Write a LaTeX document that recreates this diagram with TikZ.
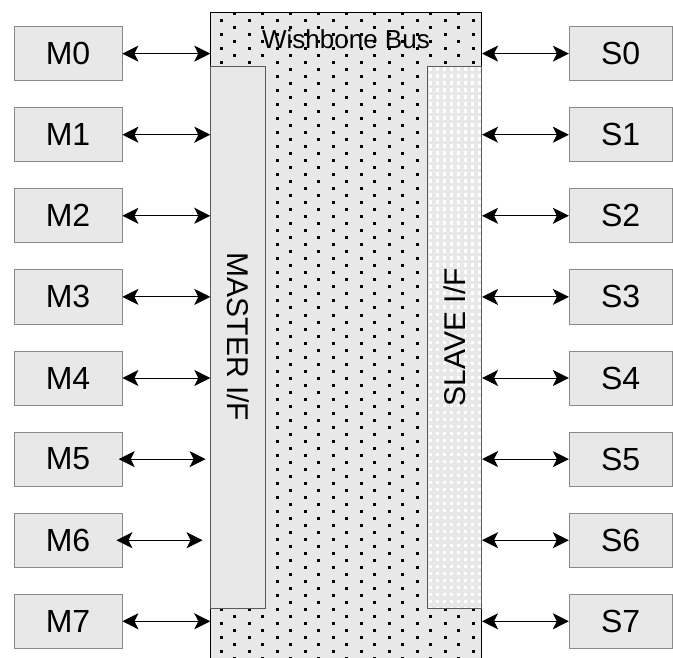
\documentclass[tikz,border=0pt]{standalone}
\usepackage{fontspec}
\setmainfont{Liberation Sans}
\usetikzlibrary{arrows.meta}
\definecolor{PanelGray}{HTML}{E8E8E8}
\definecolor{EdgeGray}{HTML}{8A8A8A}
\tikzset{unit/.style={draw=EdgeGray,fill=PanelGray,line width=0.8pt,minimum width=108pt,minimum height=54pt,inner sep=0pt,font=\fontsize{32}{38}\selectfont},
  iface/.style={draw=black!65,fill=PanelGray,line width=0.8pt,minimum width=54.3pt,minimum height=542.3pt,inner sep=0pt,font=\fontsize{30}{36}\selectfont},
  link/.style={{Stealth[length=16pt,width=16pt,inset=4pt]}-{Stealth[length=16pt,width=16pt,inset=4pt]},line width=1pt},
  busdot/.style={fill=black}}
\begin{document}
\begin{tikzpicture}[x=1pt,y=-1pt]
\useasboundingbox (0,0) rectangle (673,658);
% bus body with dot raster
\fill[PanelGray] (210.7,12.3) rectangle (481.7,658);
\begin{scope}
\clip (210.7,12.3) rectangle (481.7,658);
\foreach \r in {0,...,46}{
  \foreach \c in {0,...,8} \fill[busdot] (233.2+28*\c,12.5+14*\r) rectangle ++(3,3);
  \foreach \c in {0,...,9} \fill[busdot] (219.8+28*\c,19.5+14*\r) rectangle ++(3,3);
}
\end{scope}
\draw[line width=1pt] (210.7,658) -- (210.7,12.3) -- (481.7,12.3) -- (481.7,658);
\node[font=\fontsize{26}{30}\selectfont] (buslabel) at (346,39) {Wishbone Bus};
% interfaces
\node[iface] (master) at (237.85,337.15) {\rotatebox{-90}{MASTER I/F}};
\node[iface,path picture={
  \foreach \r in {0,...,77}\foreach \c in {0,...,7}
    \fill[white] ([xshift={(1.5+7*\c)*1pt},yshift={-(1.5+7*\r)*1pt}]path picture bounding box.north west) rectangle ++(3.5,3.5);
  }] (slave) at (454.5,337.15) {\rotatebox{90}{SLAVE I/F}};
% masters and slaves
\foreach \i in {0,...,7}{
  \node[unit] (m\i) at (68,53.6+81.1*\i) {M\i};
  \node[unit,minimum width=102.7pt] (s\i) at (620.6,53.6+81.1*\i) {S\i};
}
\foreach \i/\a/\b in {0/0/0,1/0/0,2/0/0,3/0/0,4/0/0,5/-3.7/4.7,6/-6/7.7,7/0/0}
  \draw[link,shorten <=\a pt,shorten >=\b pt] (m\i.east) -- (m\i.east -| master.west);
\foreach \i in {0,...,7}
  \draw[link] (s\i.west -| slave.east) -- (s\i.west);
\end{tikzpicture}
\end{document}
